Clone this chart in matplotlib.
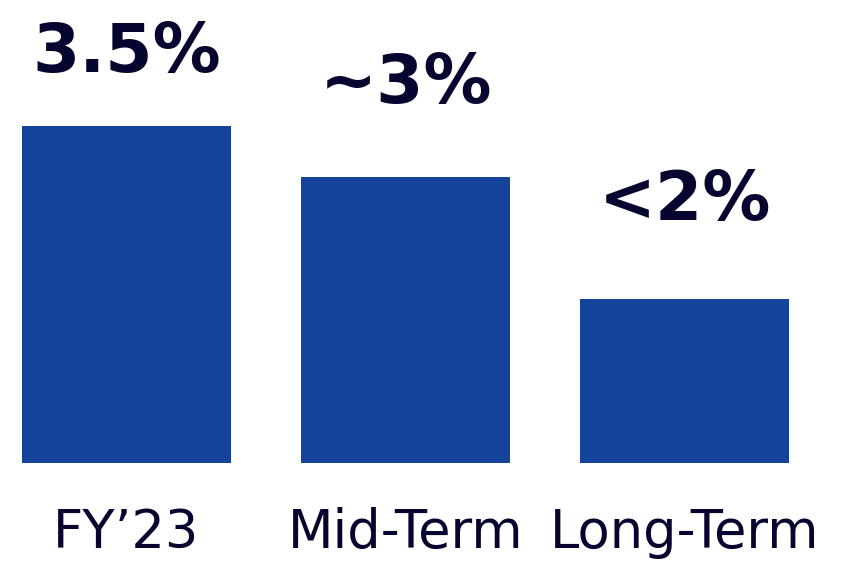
import matplotlib.pyplot as plt

categories = ["FY\u201923", "Mid-Term", "Long-Term"]
values = [3.5, 2.97, 1.7]
value_labels = ["3.5%", "~3%", "<2%"]
label_offsets = [39, 53, 57]  # points above bar top

bar_color = "#14439a"
text_color = "#050530"

fig = plt.figure(figsize=(8.49, 5.63), dpi=100)
ax = fig.add_axes([0, 0, 1, 1])

x = range(len(categories))
ax.bar(x, values, width=0.749, color=bar_color)

for xi, v, lab, off in zip(x, values, value_labels, label_offsets):
    ax.annotate(lab, (xi, v), xytext=(0, off), textcoords="offset points",
                ha="center", va="baseline", fontsize=49, fontweight="bold",
                color=text_color, family="DejaVu Sans")

# category labels drawn as text, since the axes fills the whole figure
for xi, c in zip(x, categories):
    ax.annotate(c, (xi, 0), xytext=(0, -61), textcoords="offset points",
                ha="center", va="baseline", fontsize=38, color=text_color)

ax.set_xticks([])
ax.set_yticks([])
for s in ax.spines.values():
    s.set_visible(False)

ax.set_xlim(-0.4534, 2.5896)
ax.set_ylim(-1.038, 4.808)

fig.savefig("out.png", dpi=100)
